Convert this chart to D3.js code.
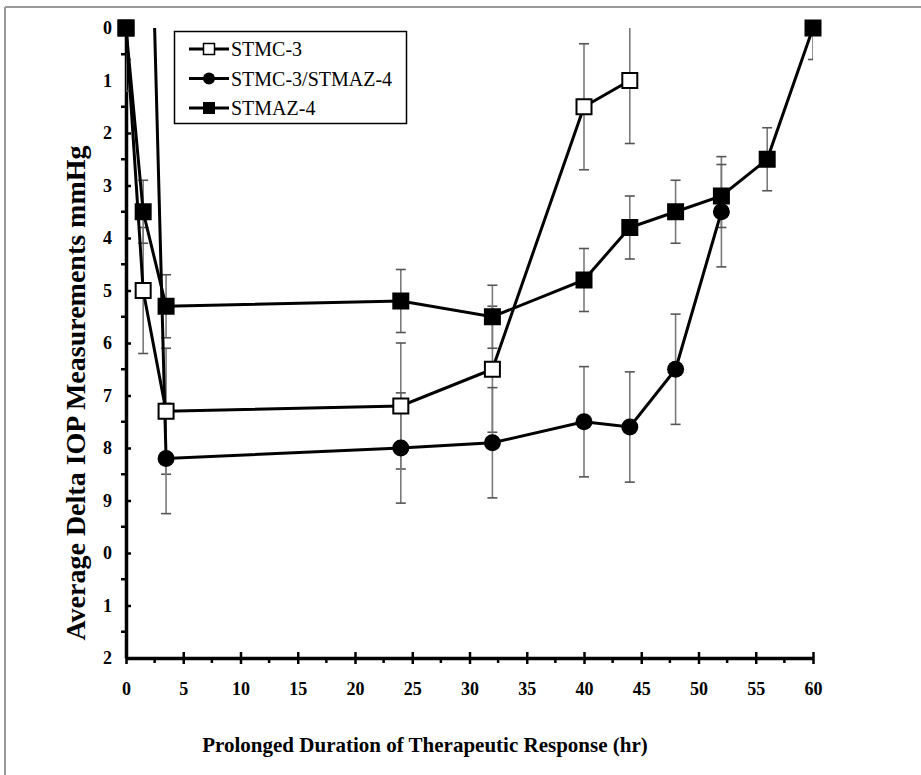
<!DOCTYPE html>
<html>
  <head>
    <title>Average Delta IOP</title>
    <meta charset="UTF-8" />
    <style>
      body { margin: 0; background: #fff; }
      text { font-family: "Liberation Serif", "Times New Roman", serif; }
    </style>
  </head>
  <body>
    <script src="https://cdn.jsdelivr.net/npm/d3@7"></script>
    <script>
      // hours
      var hoursC3 = [0, 1.5, 3.5, 24, 32, 40, 44];
      var hoursMix = [0, 3.5, 24, 32, 40, 44, 48, 52];
      var hoursAZ4 = [0, 1.5, 3.5, 24, 32, 40, 44, 48, 52, 56, 60];

      // average delta IOP (mmHg)
      var valuesC3 = [0, 5.0, 7.3, 7.2, 6.5, 1.5, 1.0];
      var valuesMix = [-20.5, 8.2, 8.0, 7.9, 7.5, 7.6, 6.5, 3.5];
      var valuesAZ4 = [0, 3.5, 5.3, 5.2, 5.5, 4.8, 3.8, 3.5, 3.2, 2.5, 0];

      // error bar half-lengths
      var errC3 = [1.2, 1.2, 1.2, 1.2, 1.2, 1.2, 1.2];
      var errMix = [0, 1.05, 1.05, 1.05, 1.05, 1.05, 1.05, 1.05];
      var errAZ4 = [0.6, 0.6, 0.6, 0.6, 0.6, 0.6, 0.6, 0.6, 0.6, 0.6, 0.6];

      var seriesNames = ["STMC-3", "STMC-3/STMAZ-4", "STMAZ-4"];
      var xTicks = [0, 5, 10, 15, 20, 25, 30, 35, 40, 45, 50, 55, 60];
      var yTicks = [0, 1, 2, 3, 4, 5, 6, 7, 8, 9, 10, 11, 12];

      function zip(hs, vs, es) {
        return hs.map(function(h, i) { return { x: h, y: vs[i], e: es[i] }; });
      }

      var series = [
        { name: seriesNames[0], pts: zip(hoursC3, valuesC3, errC3), shape: "open" },
        { name: seriesNames[1], pts: zip(hoursMix, valuesMix, errMix), shape: "circle" },
        { name: seriesNames[2], pts: zip(hoursAZ4, valuesAZ4, errAZ4), shape: "square" }
      ];

      var W = 921, H = 775;
      var svg = d3.select("body").append("svg")
        .attr("width", W).attr("height", H);

      // frame edges
      svg.append("line").attr("x1", 5).attr("x2", W).attr("y1", 7).attr("y2", 7)
        .attr("stroke", "#999").attr("stroke-width", 2);
      svg.append("line").attr("x1", 5).attr("x2", 5).attr("y1", 7).attr("y2", H)
        .attr("stroke", "#999").attr("stroke-width", 2);

      var x = d3.scaleLinear().domain([0, 60]).range([126, 813]);
      var y = d3.scaleLinear().domain([0, 12]).range([28, 658]);

      svg.append("clipPath").attr("id", "plot")
        .append("rect").attr("x", x(0)).attr("y", y(0))
        .attr("width", x(60) - x(0)).attr("height", y(12) - y(0));

      // minor ticks
      var g = svg.append("g");
      g.selectAll(".ymin").data(d3.range(0.5, 12, 1)).enter().append("line")
        .attr("x1", x(0) - 5).attr("x2", x(0))
        .attr("y1", function(d) { return y(d); }).attr("y2", function(d) { return y(d); })
        .attr("stroke", "#000").attr("stroke-width", 2.5);
      g.selectAll(".xmin").data(d3.range(2.5, 60, 5)).enter().append("line")
        .attr("y1", y(12)).attr("y2", y(12) + 5)
        .attr("x1", function(d) { return x(d); }).attr("x2", function(d) { return x(d); })
        .attr("stroke", "#000").attr("stroke-width", 2.5);

      var yAxis = svg.append("g")
        .attr("transform", "translate(" + x(0) + ",0)")
        .call(d3.axisLeft(y).tickValues(yTicks).tickSizeInner(5).tickSizeOuter(0)
          .tickFormat(function(d) { return d % 10; }));
      yAxis.selectAll(".tick line").attr("x2", 5);

      var xAxis = svg.append("g")
        .attr("transform", "translate(0," + y(12) + ")")
        .call(d3.axisBottom(x).tickValues(xTicks).tickSizeInner(6).tickSizeOuter(0));
      xAxis.selectAll(".tick line").attr("y1", -6);

      [xAxis, yAxis].forEach(function(a) {
        a.select(".domain").attr("stroke", "#000").attr("stroke-width", 3.5);
        a.selectAll(".tick line").attr("stroke", "#000").attr("stroke-width", 2.5);
        a.selectAll("text").attr("fill", "#000")
          .style("font-family", "'Liberation Serif', serif")
          .style("font-weight", "bold").style("font-size", "18px");
      });
      yAxis.selectAll("text").attr("x", -14);
      xAxis.selectAll("text").attr("y", 24);

      // error bars
      var eb = svg.append("g").attr("clip-path", "url(#plot)");
      series.forEach(function(s) {
        var pts = s.pts.filter(function(p) { return p.y >= 0; });
        var grp = eb.append("g");
        grp.selectAll(".v").data(pts).enter().append("line")
          .attr("x1", function(d) { return x(d.x); }).attr("x2", function(d) { return x(d.x); })
          .attr("y1", function(d) { return y(d.y - d.e); }).attr("y2", function(d) { return y(d.y + d.e); })
          .attr("stroke", "#7a7a7a").attr("stroke-width", 1.6);
        [-1, 1].forEach(function(sg) {
          grp.selectAll(".c" + sg).data(pts).enter().append("line")
            .attr("x1", function(d) { return x(d.x) - 5; }).attr("x2", function(d) { return x(d.x) + 5; })
            .attr("y1", function(d) { return y(d.y + sg * d.e); }).attr("y2", function(d) { return y(d.y + sg * d.e); })
            .attr("stroke", "#555").attr("stroke-width", 1.6);
        });
      });

      // lines
      var line = d3.line().x(function(d) { return x(d.x); }).y(function(d) { return y(d.y); });
      var lg = svg.append("g").attr("clip-path", "url(#plot)");
      series.forEach(function(s) {
        lg.append("path").datum(s.pts).attr("d", line)
          .attr("fill", "none").attr("stroke", "#000").attr("stroke-width", 3);
      });

      function drawMarker(sel, shape, cx, cy) {
        if (shape === "circle") {
          sel.append("circle").attr("cx", cx).attr("cy", cy).attr("r", 8.5).attr("fill", "#000");
        } else if (shape === "square") {
          sel.append("rect").attr("x", cx - 8.5).attr("y", cy - 8.5)
            .attr("width", 17).attr("height", 17).attr("fill", "#000");
        } else {
          sel.append("rect").attr("x", cx - 7.5).attr("y", cy - 7.5)
            .attr("width", 15).attr("height", 15).attr("fill", "#fff")
            .attr("stroke", "#000").attr("stroke-width", 2);
        }
      }

      var mg = svg.append("g");
      series.forEach(function(s) {
        s.pts.filter(function(p) { return p.y >= 0; }).forEach(function(p) {
          drawMarker(mg, s.shape, x(p.x), y(p.y));
        });
      });

      // legend
      var leg = svg.append("g");
      leg.append("rect").attr("x", 174.5).attr("y", 31.5).attr("width", 232).attr("height", 92)
        .attr("fill", "#fff").attr("stroke", "#000").attr("stroke-width", 1.5);
      series.forEach(function(s, i) {
        var ly = 49 + i * 29.5;
        leg.append("line").attr("x1", 189).attr("x2", 229).attr("y1", ly).attr("y2", ly)
          .attr("stroke", "#000").attr("stroke-width", 3);
        var m = leg.append("g");
        if (s.shape === "circle") {
          m.append("circle").attr("cx", 209).attr("cy", ly).attr("r", 6).attr("fill", "#000");
        } else if (s.shape === "square") {
          m.append("rect").attr("x", 203).attr("y", ly - 6).attr("width", 12).attr("height", 12).attr("fill", "#000");
        } else {
          m.append("rect").attr("x", 203.5).attr("y", ly - 5.5).attr("width", 11).attr("height", 11)
            .attr("fill", "#fff").attr("stroke", "#000").attr("stroke-width", 1.5);
        }
        leg.append("text").attr("x", 231).attr("y", ly + 7)
          .style("font-size", "20px").attr("fill", "#000").text(s.name);
      });

      // titles
      svg.append("text")
        .attr("transform", "translate(85,393) rotate(-90)")
        .attr("text-anchor", "middle")
        .style("font-size", "28px").style("font-weight", "bold")
        .text("Average Delta IOP Measurements mmHg");

      svg.append("text")
        .attr("x", 425).attr("y", 752)
        .attr("text-anchor", "middle")
        .style("font-size", "21px").style("font-weight", "bold")
        .text("Prolonged Duration of Therapeutic Response (hr)");
    </script>
  </body>
</html>
